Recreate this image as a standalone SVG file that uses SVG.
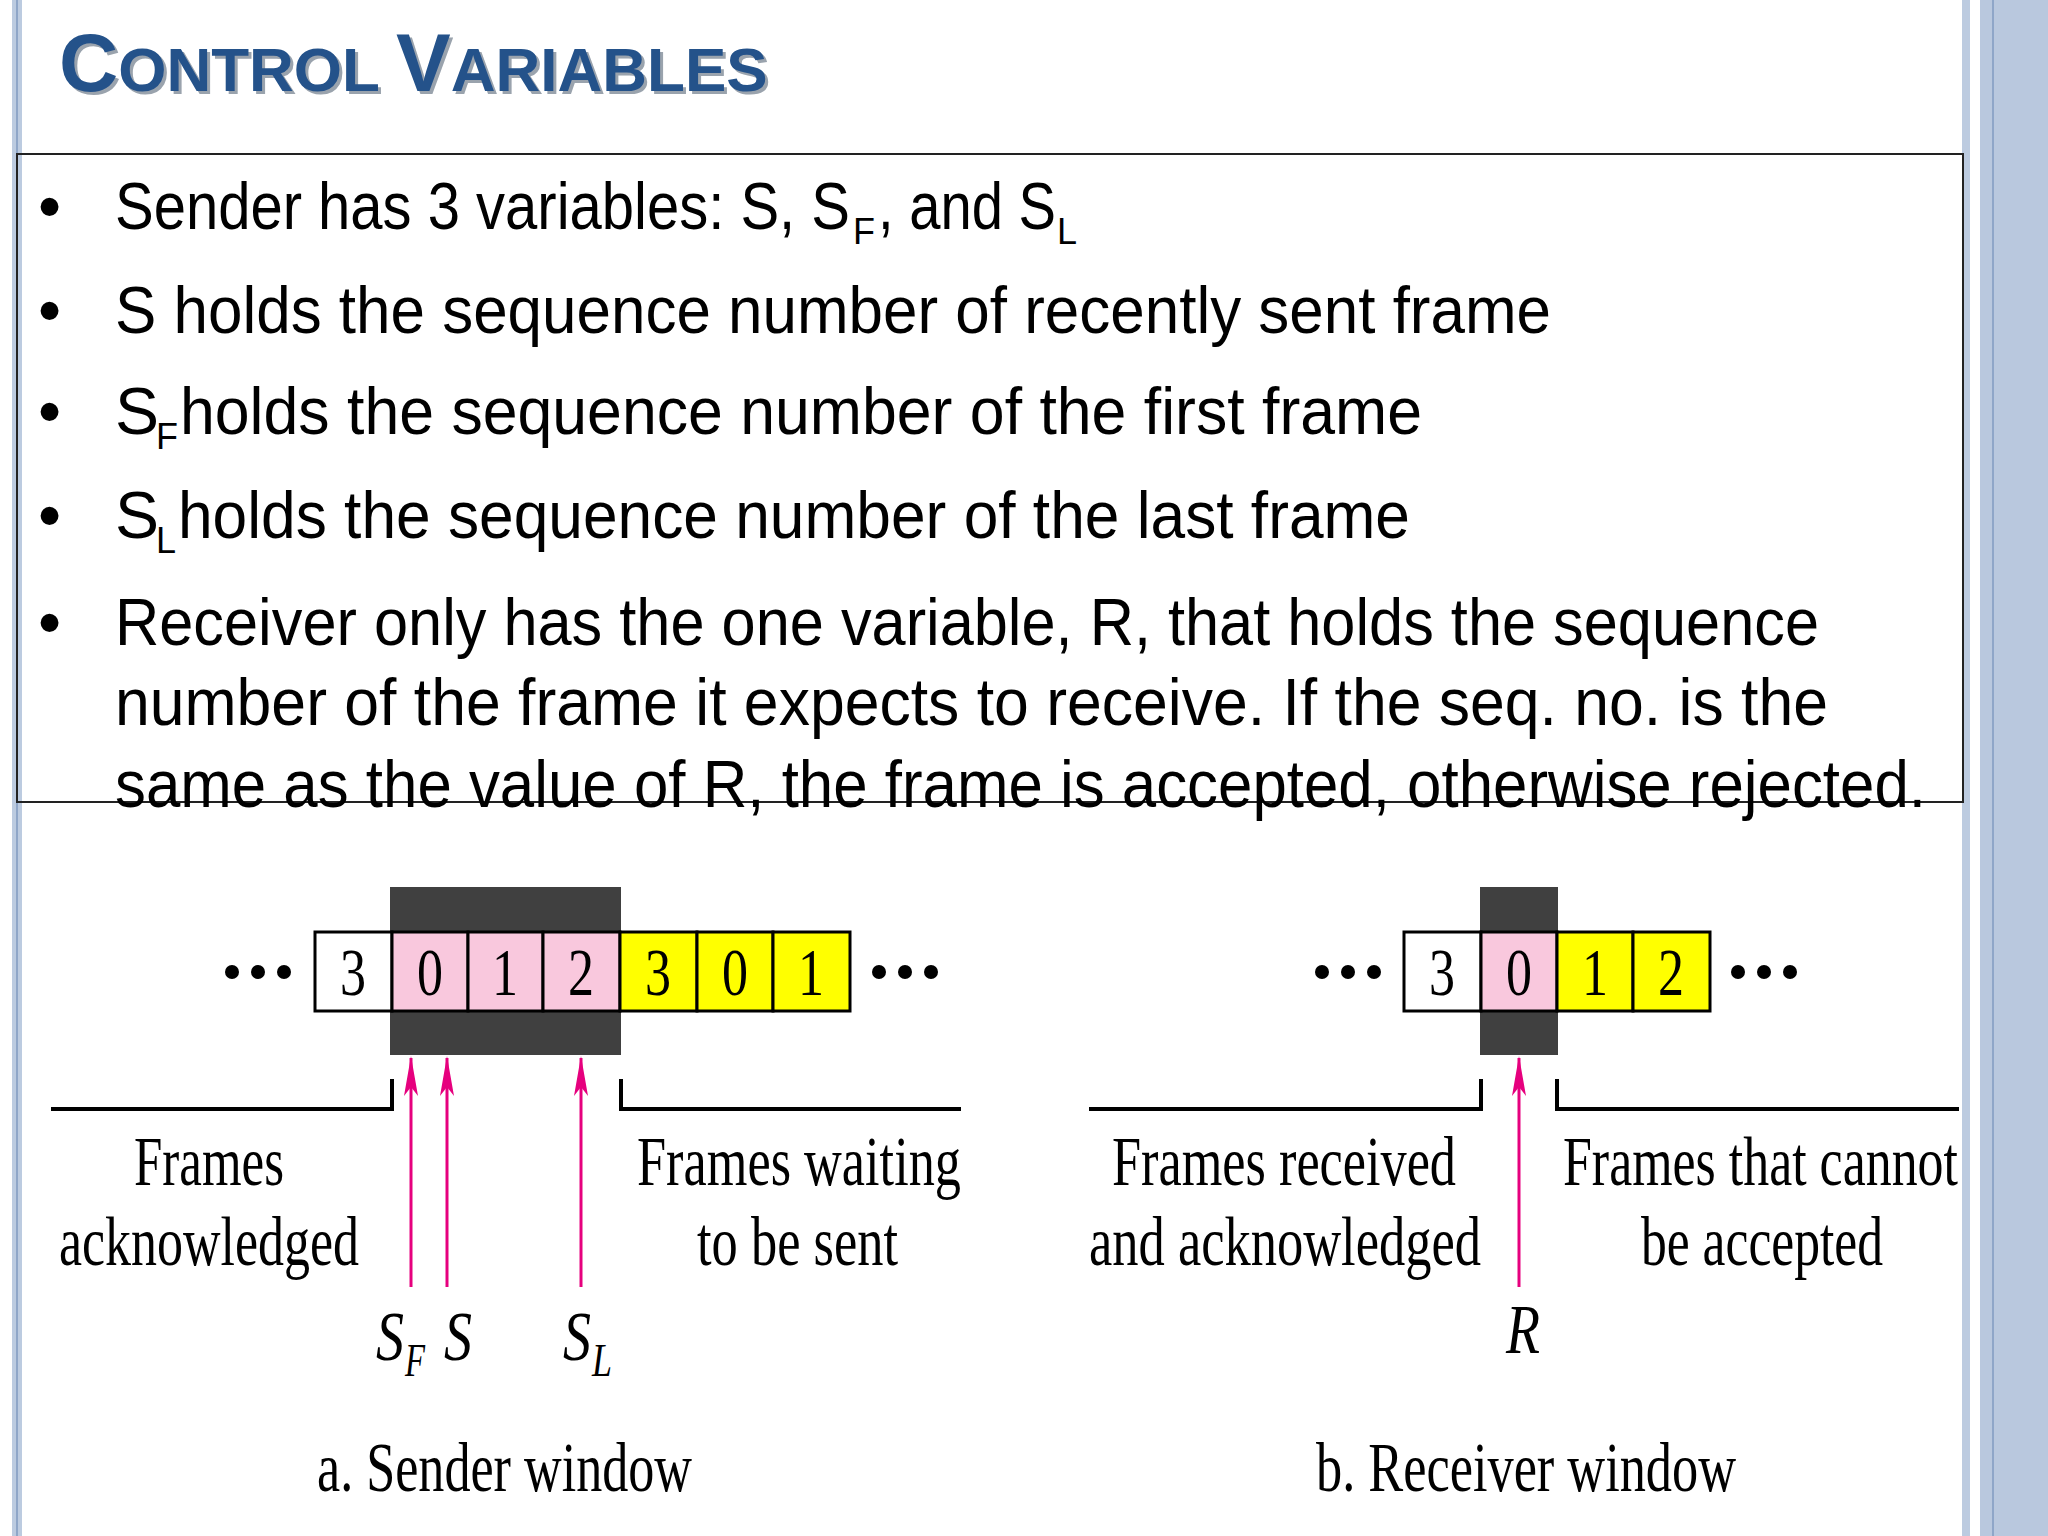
<svg xmlns="http://www.w3.org/2000/svg" width="2048" height="1536" viewBox="0 0 2048 1536">
<style>
.b{font-family:"Liberation Sans","Open Sans",sans-serif;font-size:66px;fill:#000}
.s{font-family:"Liberation Sans","Open Sans",sans-serif;font-size:36px;fill:#000}
.t{font-family:"Liberation Serif",serif;font-size:70px;fill:#000}
.d{font-family:"Liberation Serif",serif;font-size:68px;fill:#000;text-anchor:middle}
.i{font-family:"Liberation Serif",serif;font-size:70px;font-style:italic;fill:#000}
.ii{font-family:"Liberation Serif",serif;font-size:46px;font-style:italic;fill:#000}
.cell{stroke:#000;stroke-width:3}
.br{fill:none;stroke:#000;stroke-width:4}
.ar{stroke:#e6007e;stroke-width:3;marker-end:url(#ah)}
.ttl{font-family:"Liberation Sans",Arial,sans-serif;font-weight:bold;fill:#24528a}
</style>
<defs>
<marker id="ah" markerWidth="40" markerHeight="14" refX="38" refY="7" orient="auto" markerUnits="userSpaceOnUse" viewBox="0 0 40 14">
<path d="M40,7 L0,0 L9,7 L0,14 Z" fill="#e6007e"/>
</marker>
</defs>
<rect width="2048" height="1536" fill="#fff"/>
<rect x="12" y="0" width="10" height="1536" fill="#bccbe0"/>
<rect x="16" y="0" width="2" height="1536" fill="#8fa6c8"/>
<rect x="1962" y="0" width="8" height="1536" fill="#bccbe0"/>
<rect x="1980" y="0" width="68" height="1536" fill="#b9c8de"/>
<rect x="1992" y="0" width="2" height="1536" fill="#8fa6c8"/>
<g id="title">
<text x="62" y="94" class="ttl" style="fill:#9aa3ad" font-size="82"><tspan>C</tspan><tspan font-size="62">ONTROL </tspan><tspan font-size="82">V</tspan><tspan font-size="62">ARIABLES</tspan></text>
<text x="59" y="91" class="ttl" font-size="82"><tspan>C</tspan><tspan font-size="62">ONTROL </tspan><tspan font-size="82">V</tspan><tspan font-size="62">ARIABLES</tspan></text>
</g>
<g id="bullets">
<rect x="17" y="154" width="1946" height="648" fill="none" stroke="#222" stroke-width="2"/>
<g class="b">
<text x="38" y="229">•</text><text x="38" y="333">•</text><text x="38" y="434">•</text><text x="38" y="538">•</text><text x="38" y="645">•</text>
<text x="115" y="229" textLength="735" lengthAdjust="spacingAndGlyphs">Sender has 3 variables: S, S</text>
<text x="878" y="229" textLength="178" lengthAdjust="spacingAndGlyphs">, and S</text>
<text x="115" y="333" textLength="1436" lengthAdjust="spacingAndGlyphs">S holds the sequence number of recently sent frame</text>
<text x="115" y="434">S</text>
<text x="180" y="434" textLength="1242" lengthAdjust="spacingAndGlyphs">holds the sequence number of the first frame</text>
<text x="115" y="538">S</text>
<text x="178" y="538" textLength="1232" lengthAdjust="spacingAndGlyphs">holds the sequence number of the last frame</text>
<text x="115" y="645" textLength="1704" lengthAdjust="spacingAndGlyphs">Receiver only has the one variable, R, that holds the sequence</text>
<text x="115" y="725" textLength="1713" lengthAdjust="spacingAndGlyphs">number of the frame it expects to receive. If the seq. no. is the</text>
<text x="115" y="807" textLength="1811" lengthAdjust="spacingAndGlyphs">same as the value of R, the frame is accepted, otherwise rejected.</text>
</g>
<g class="s">
<text x="853" y="244">F</text><text x="1057" y="244">L</text>
<text x="156" y="449">F</text><text x="156" y="553">L</text>
</g>
</g>
<g id="sender">
<rect x="390" y="887" width="231" height="168" fill="#404040"/>
<rect x="315" y="932" width="77" height="79" fill="#fff" class="cell"/>
<rect x="392" y="932" width="76" height="79" fill="#f9c8dd" class="cell"/>
<rect x="468" y="932" width="75" height="79" fill="#f9c8dd" class="cell"/>
<rect x="543" y="932" width="77" height="79" fill="#f9c8dd" class="cell"/>
<rect x="620" y="932" width="77" height="79" fill="#ffff00" class="cell"/>
<rect x="697" y="932" width="76" height="79" fill="#ffff00" class="cell"/>
<rect x="773" y="932" width="77" height="79" fill="#ffff00" class="cell"/>
<text class="d" x="353" y="995" textLength="26" lengthAdjust="spacingAndGlyphs">3</text>
<text class="d" x="430" y="995" textLength="26" lengthAdjust="spacingAndGlyphs">0</text>
<text class="d" x="505" y="995" textLength="26" lengthAdjust="spacingAndGlyphs">1</text>
<text class="d" x="581" y="995" textLength="26" lengthAdjust="spacingAndGlyphs">2</text>
<text class="d" x="658" y="995" textLength="26" lengthAdjust="spacingAndGlyphs">3</text>
<text class="d" x="735" y="995" textLength="26" lengthAdjust="spacingAndGlyphs">0</text>
<text class="d" x="811" y="995" textLength="26" lengthAdjust="spacingAndGlyphs">1</text>
<g fill="#000"><circle cx="232" cy="972" r="7"/><circle cx="258" cy="972" r="7"/><circle cx="284" cy="972" r="7"/>
<circle cx="879" cy="972" r="7"/><circle cx="905" cy="972" r="7"/><circle cx="931" cy="972" r="7"/></g>
<text class="t" x="134" y="1185" textLength="150" lengthAdjust="spacingAndGlyphs">Frames</text>
<text class="t" x="59" y="1265" textLength="300" lengthAdjust="spacingAndGlyphs">acknowledged</text>
<text class="t" x="637" y="1185" textLength="324" lengthAdjust="spacingAndGlyphs">Frames waiting</text>
<text class="t" x="697" y="1265" textLength="201" lengthAdjust="spacingAndGlyphs">to be sent</text>
<text class="i" x="376" y="1360" textLength="28" lengthAdjust="spacingAndGlyphs">S</text>
<text class="ii" x="405" y="1376" textLength="20" lengthAdjust="spacingAndGlyphs">F</text>
<text class="i" x="444" y="1360" textLength="28" lengthAdjust="spacingAndGlyphs">S</text>
<text class="i" x="563" y="1360" textLength="28" lengthAdjust="spacingAndGlyphs">S</text>
<text class="ii" x="592" y="1376" textLength="20" lengthAdjust="spacingAndGlyphs">L</text>
<text class="t" x="317" y="1491" textLength="375" lengthAdjust="spacingAndGlyphs">a. Sender window</text>
</g>
<g id="receiver">
<rect x="1480" y="887" width="78" height="168" fill="#404040"/>
<rect x="1404" y="932" width="77" height="79" fill="#fff" class="cell"/>
<rect x="1481" y="932" width="76" height="79" fill="#f9c8dd" class="cell"/>
<rect x="1557" y="932" width="76" height="79" fill="#ffff00" class="cell"/>
<rect x="1633" y="932" width="77" height="79" fill="#ffff00" class="cell"/>
<text class="d" x="1442" y="995" textLength="26" lengthAdjust="spacingAndGlyphs">3</text>
<text class="d" x="1519" y="995" textLength="26" lengthAdjust="spacingAndGlyphs">0</text>
<text class="d" x="1595" y="995" textLength="26" lengthAdjust="spacingAndGlyphs">1</text>
<text class="d" x="1671" y="995" textLength="26" lengthAdjust="spacingAndGlyphs">2</text>
<g fill="#000"><circle cx="1322" cy="972" r="7"/><circle cx="1348" cy="972" r="7"/><circle cx="1374" cy="972" r="7"/>
<circle cx="1738" cy="972" r="7"/><circle cx="1764" cy="972" r="7"/><circle cx="1790" cy="972" r="7"/></g>
<text class="t" x="1112" y="1185" textLength="344" lengthAdjust="spacingAndGlyphs">Frames received</text>
<text class="t" x="1089" y="1265" textLength="392" lengthAdjust="spacingAndGlyphs">and acknowledged</text>
<text class="t" x="1563" y="1185" textLength="395" lengthAdjust="spacingAndGlyphs">Frames that cannot</text>
<text class="t" x="1641" y="1265" textLength="242" lengthAdjust="spacingAndGlyphs">be accepted</text>
<text class="i" x="1506" y="1353" textLength="34" lengthAdjust="spacingAndGlyphs">R</text>
<text class="t" x="1316" y="1491" textLength="420" lengthAdjust="spacingAndGlyphs">b. Receiver window</text>
</g>
<g id="connectors">
<path class="br" d="M51,1109 H392 V1079"/>
<path class="br" d="M621,1079 V1109 H961"/>
<path class="br" d="M1089,1109 H1481 V1079"/>
<path class="br" d="M1557,1079 V1109 H1959"/>
<line class="ar" x1="411" y1="1287" x2="411" y2="1058"/>
<line class="ar" x1="447" y1="1287" x2="447" y2="1058"/>
<line class="ar" x1="581" y1="1287" x2="581" y2="1058"/>
<line class="ar" x1="1519" y1="1287" x2="1519" y2="1058"/>
</g>
</svg>
